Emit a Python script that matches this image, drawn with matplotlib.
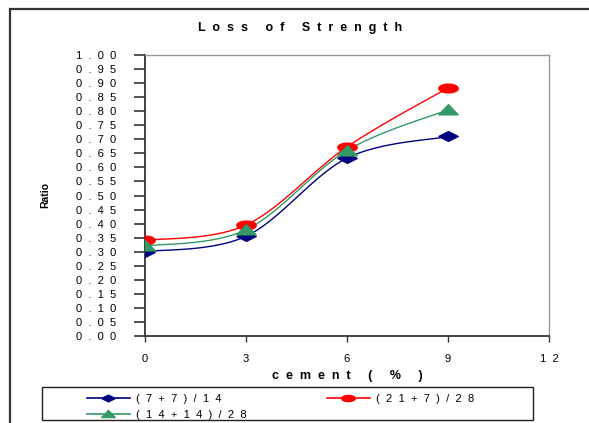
import matplotlib
matplotlib.use("Agg")
import matplotlib.pyplot as plt
import numpy as np
from matplotlib.patches import Rectangle
from matplotlib.ticker import FuncFormatter, MultipleLocator

plt.rcParams['font.family'] = ['Liberation Sans', 'DejaVu Sans']

# data
cement = [0, 3, 6, 9]
ratio_7_7 = [0.30, 0.355, 0.633, 0.71]
ratio_21_7 = [0.34, 0.395, 0.673, 0.883]
ratio_14_14 = [0.32, 0.378, 0.66, 0.805]
labels = ["(7+7)/14", "(21+7)/28", "(14+14)/28"]
colors = ["#000080", "#FF0000", "#339966"]


def spaced(s, sep="  "):
    # the old chart uses wide letter spacing everywhere
    return sep.join(s)


def smooth(xs, ys, n=40):
    # excel-style smoothed line (catmull-rom bezier)
    p = np.column_stack([xs, ys]).astype(float)
    out = []
    for i in range(len(p) - 1):
        p0 = p[i - 1] if i > 0 else p[i]
        p1, p2 = p[i], p[i + 1]
        p3 = p[i + 2] if i + 2 < len(p) else p[i + 1]
        c1 = p1 + (p2 - p0) / 6
        c2 = p2 - (p3 - p1) / 6
        t = np.linspace(0, 1, n)[:, None]
        seg = ((1 - t) ** 3) * p1 + 3 * ((1 - t) ** 2) * t * c1 + 3 * (1 - t) * t ** 2 * c2 + t ** 3 * p2
        out.append(seg)
    out = np.vstack(out)
    return out[:, 0], out[:, 1]


diamond = [(-1, 0), (0, 0.5), (1, 0), (0, -0.5), (-1, 0)]
ang = np.linspace(0, 2 * np.pi, 40)
oval = list(zip(np.cos(ang), 0.45 * np.sin(ang)))
tri = [(-1, -0.45), (0, 0.6), (1, -0.45), (-1, -0.45)]
markers = [diamond, oval, tri]

fig = plt.figure(figsize=(5.89, 4.23), dpi=100)
ax = fig.add_axes([145 / 589, 1 - 336 / 423, 404 / 589, 281 / 423])

series = [ratio_7_7, ratio_21_7, ratio_14_14]
handles = []
for ys, c, m, lab in zip(series, colors, markers, labels):
    sx, sy = smooth(cement, ys)
    ax.plot(sx, sy, color=c, lw=1.0, zorder=2)
    ax.plot(cement, ys, ls='none', marker=m, ms=14, color=c, mec=c, zorder=3)
    h, = ax.plot([], [], color=c, lw=1.2, marker=m, ms=14, mec=c,
                 label=spaced(lab))
    handles.append(h)

ax.set_xlim(0, 12)
ax.set_ylim(0, 1.0)
ax.xaxis.set_major_locator(MultipleLocator(3))
ax.yaxis.set_major_locator(MultipleLocator(0.05))
ax.yaxis.set_major_formatter(FuncFormatter(lambda v, p: spaced(f"{v:.2f}")))
ax.xaxis.set_major_formatter(FuncFormatter(lambda v, p: spaced(str(int(round(v))))))
ax.tick_params(axis='y', direction='out', length=8, width=1.2, color='#333333',
               labelsize=8, pad=13)
ax.tick_params(axis='x', direction='out', length=4, width=1, color='#333333',
               labelsize=8, pad=9)
for s in ['left', 'bottom']:
    ax.spines[s].set_color('#333333')
    ax.spines[s].set_linewidth(1.3)
for s in ['top', 'right']:
    ax.spines[s].set_color('#999999')
    ax.spines[s].set_linewidth(1.0)

ax.set_xlabel(spaced("cement ( % )"), fontsize=9, fontweight='bold', labelpad=4)
fig.text(45 / 589, 1 - 195 / 423, "Ratio", rotation=90, fontsize=7.5,
         fontweight='bold', ha='center', va='center')
fig.text(300 / 589, 1 - 28 / 423, spaced("Loss of Strength"), fontsize=9,
         fontweight='bold', ha='center', va='center')

# legend: row-major order (blue, red / green)
order = [handles[0], handles[2], handles[1]]
fig.legend(order, [h.get_label() for h in order], ncol=2, frameon=False,
           loc='upper left', bbox_to_anchor=(81 / 589, 1 - 388 / 423),
           borderpad=0, fontsize=8, handlelength=3.9, handletextpad=0.55,
           columnspacing=7.2, labelspacing=0.6, markerscale=0.7)
fig.add_artist(Rectangle((42 / 589, 1 - 420 / 423), 491 / 589, 33 / 423,
                         transform=fig.transFigure, fill=False, ec='#222222', lw=1.0))

# outer chart frame
fig.add_artist(Rectangle((10 / 589, -0.05), 1.1, 1 - 9 / 423 + 0.05,
                         transform=fig.transFigure, fill=False, ec='#333333', lw=1.6))

fig.savefig("out.png", dpi=100)
